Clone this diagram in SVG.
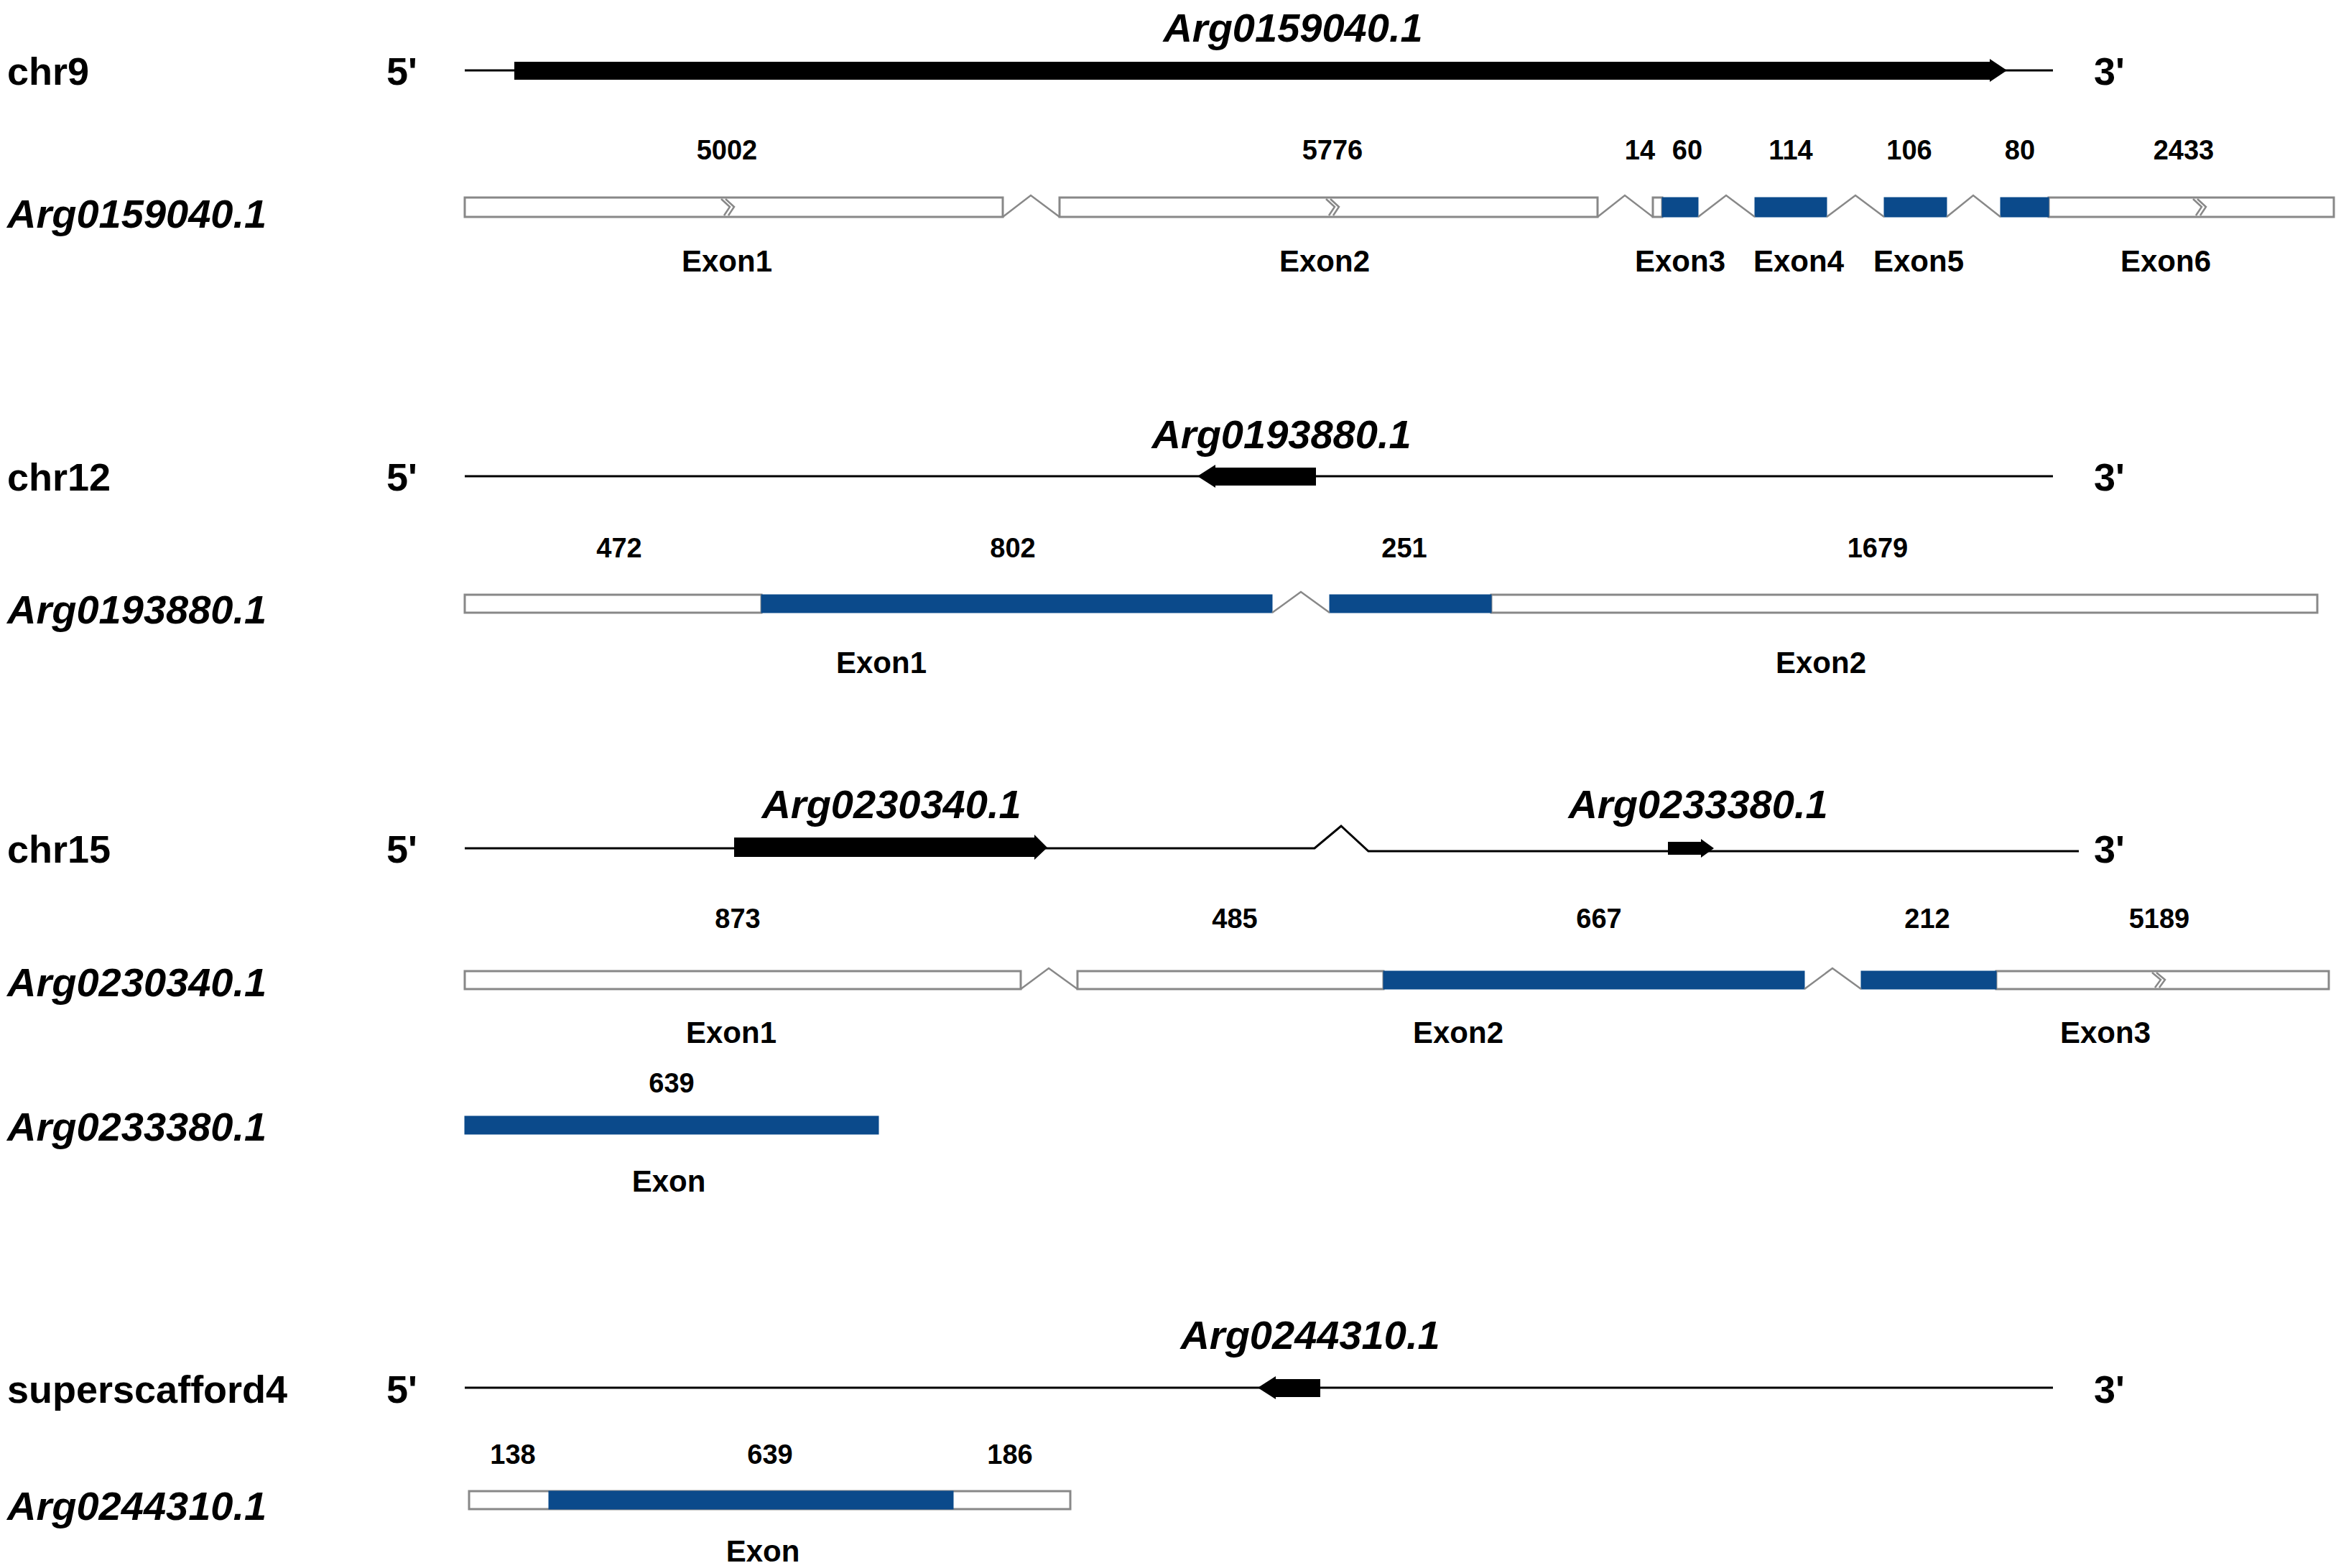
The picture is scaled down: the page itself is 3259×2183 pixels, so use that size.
<svg xmlns="http://www.w3.org/2000/svg" width="3259" height="2183" viewBox="0 0 3259 2183">
<style>
.lab{font-family:"Liberation Sans",Arial,sans-serif;font-weight:bold;font-size:54px;fill:#000}
.it{font-family:"Liberation Sans",Arial,sans-serif;font-weight:bold;font-style:italic;font-size:56px;fill:#000}
.num{font-family:"Liberation Sans",Arial,sans-serif;font-weight:bold;font-size:38px;fill:#000;text-anchor:middle}
.ex{font-family:"Liberation Sans",Arial,sans-serif;font-weight:bold;font-size:42px;fill:#000;text-anchor:middle}
.chr{stroke:#000;stroke-width:3;fill:none}
.w{fill:#fff;stroke:#888;stroke-width:3}
.b{fill:#0b4a8b;stroke:#0b4a8b;stroke-width:1}
.intr{fill:none;stroke:#888;stroke-width:2.5}
.chev{fill:none;stroke:#888;stroke-width:2.5}
</style>
<rect width="3259" height="2183" fill="#fff"/>

<g id="row1">
<text class="lab" x="10" y="118">chr9</text>
<text class="lab" x="538" y="118">5'</text>
<text class="lab" x="2915" y="118">3'</text>
<line class="chr" x1="647" y1="98" x2="2858" y2="98"/>
<polygon points="716,86 2770,86 2770,82 2794,98 2770,114 2770,111 716,111" fill="#000"/>
<text class="it" x="1800" y="58" text-anchor="middle">Arg0159040.1</text>
</g>
<g id="tx1">
<text class="it" x="10" y="317">Arg0159040.1</text>
<text class="num" x="1012" y="222">5002</text>
<text class="num" x="1855" y="222">5776</text>
<text class="num" x="2283" y="222">14</text>
<text class="num" x="2349" y="222">60</text>
<text class="num" x="2493" y="222">114</text>
<text class="num" x="2658" y="222">106</text>
<text class="num" x="2812" y="222">80</text>
<text class="num" x="3040" y="222">2433</text>
<rect class="w" x="647" y="275" width="749" height="27"/>
<rect class="w" x="1475" y="275" width="749" height="27"/>
<rect class="w" x="2301" y="275" width="13" height="27"/>
<rect class="b" x="2314" y="275" width="50" height="27"/>
<rect class="b" x="2443" y="275" width="100" height="27"/>
<rect class="b" x="2623" y="275" width="87" height="27"/>
<rect class="w" x="2852" y="275" width="397" height="27"/>
<rect class="b" x="2785" y="275" width="67" height="27"/>
<polyline class="intr" points="1396,302 1435,272 1475,302"/>
<polyline class="intr" points="2224,302 2262,272 2301,302"/>
<polyline class="intr" points="2364,302 2403,272 2443,302"/>
<polyline class="intr" points="2543,302 2583,272 2623,302"/>
<polyline class="intr" points="2710,302 2747,272 2785,302"/>
<polyline class="chev" points="1004,277 1016,288 1008,300"/>
<polyline class="chev" points="1010,277 1022,288 1014,300"/>
<polyline class="chev" points="1846,277 1858,288 1850,300"/>
<polyline class="chev" points="1852,277 1864,288 1856,300"/>
<polyline class="chev" points="3053,277 3065,288 3057,300"/>
<polyline class="chev" points="3059,277 3071,288 3063,300"/>
<text class="ex" x="1012" y="378">Exon1</text>
<text class="ex" x="1844" y="378">Exon2</text>
<text class="ex" x="2339" y="378">Exon3</text>
<text class="ex" x="2504" y="378">Exon4</text>
<text class="ex" x="2671" y="378">Exon5</text>
<text class="ex" x="3015" y="378">Exon6</text>
</g>

<g id="row2">
<text class="lab" x="10" y="683">chr12</text>
<text class="lab" x="538" y="683">5'</text>
<text class="lab" x="2915" y="683">3'</text>
<line class="chr" x1="647" y1="663" x2="2858" y2="663"/>
<polygon points="1832,651 1692,651 1692,647 1667,663 1692,679 1692,676 1832,676" fill="#000"/>
<text class="it" x="1784" y="624" text-anchor="middle">Arg0193880.1</text>
</g>
<g id="tx2">
<text class="it" x="10" y="868">Arg0193880.1</text>
<text class="num" x="862" y="776">472</text>
<text class="num" x="1410" y="776">802</text>
<text class="num" x="1955" y="776">251</text>
<text class="num" x="2614" y="776">1679</text>
<rect class="w" x="647" y="828" width="413" height="25"/>
<rect class="b" x="1060" y="828" width="711" height="25"/>
<rect class="w" x="2076" y="828" width="1150" height="25"/>
<rect class="b" x="1851" y="828" width="225" height="25"/>
<polyline class="intr" points="1771,853 1811,824 1851,853"/>
<text class="ex" x="1227" y="937">Exon1</text>
<text class="ex" x="2535" y="937">Exon2</text>
</g>

<g id="row3">
<text class="lab" x="10" y="1201">chr15</text>
<text class="lab" x="538" y="1201">5'</text>
<text class="lab" x="2915" y="1201">3'</text>
<polyline class="chr" points="647,1181 1830,1181 1867,1150 1905,1185 2894,1185"/>
<polygon points="1022,1166 1440,1166 1440,1162 1458,1180 1440,1197 1440,1193 1022,1193" fill="#000"/>
<polygon points="2322,1172 2368,1172 2368,1168 2386,1181 2368,1194 2368,1190 2322,1190" fill="#000"/>
<text class="it" x="1241" y="1139" text-anchor="middle">Arg0230340.1</text>
<text class="it" x="2364" y="1139" text-anchor="middle">Arg0233380.1</text>
</g>
<g id="tx3">
<text class="it" x="10" y="1387">Arg0230340.1</text>
<text class="num" x="1027" y="1292">873</text>
<text class="num" x="1719" y="1292">485</text>
<text class="num" x="2226" y="1292">667</text>
<text class="num" x="2683" y="1292">212</text>
<text class="num" x="3006" y="1292">5189</text>
<rect class="w" x="647" y="1352" width="774" height="25"/>
<rect class="w" x="1500" y="1352" width="426" height="25"/>
<rect class="b" x="1926" y="1352" width="586" height="25"/>
<rect class="w" x="2779" y="1352" width="463" height="25"/>
<rect class="b" x="2591" y="1352" width="188" height="25"/>
<polyline class="intr" points="1421,1377 1460,1348 1500,1377"/>
<polyline class="intr" points="2512,1377 2551,1348 2591,1377"/>
<polyline class="chev" points="2996,1354 3008,1364 3000,1375"/>
<polyline class="chev" points="3002,1354 3014,1364 3006,1375"/>
<text class="ex" x="1018" y="1452">Exon1</text>
<text class="ex" x="2030" y="1452">Exon2</text>
<text class="ex" x="2931" y="1452">Exon3</text>
</g>
<g id="tx4">
<text class="it" x="10" y="1588">Arg0233380.1</text>
<text class="num" x="935" y="1521">639</text>
<rect class="b" x="647" y="1554" width="576" height="25"/>
<text class="ex" x="931" y="1659">Exon</text>
</g>

<g id="row4">
<text class="lab" x="10" y="1953">superscafford4</text>
<text class="lab" x="538" y="1953">5'</text>
<text class="lab" x="2915" y="1953">3'</text>
<line class="chr" x1="647" y1="1932" x2="2858" y2="1932"/>
<polygon points="1838,1920 1776,1920 1776,1916 1751,1932 1776,1948 1776,1945 1838,1945" fill="#000"/>
<text class="it" x="1824" y="1878" text-anchor="middle">Arg0244310.1</text>
</g>
<g id="tx5">
<text class="it" x="10" y="2116">Arg0244310.1</text>
<text class="num" x="714" y="2038">138</text>
<text class="num" x="1072" y="2038">639</text>
<text class="num" x="1406" y="2038">186</text>
<rect class="w" x="653" y="2076" width="837" height="25"/>
<rect class="b" x="764" y="2076" width="563" height="25"/>
<text class="ex" x="1062" y="2174">Exon</text>
</g>
<g id="connectors"/>
</svg>
